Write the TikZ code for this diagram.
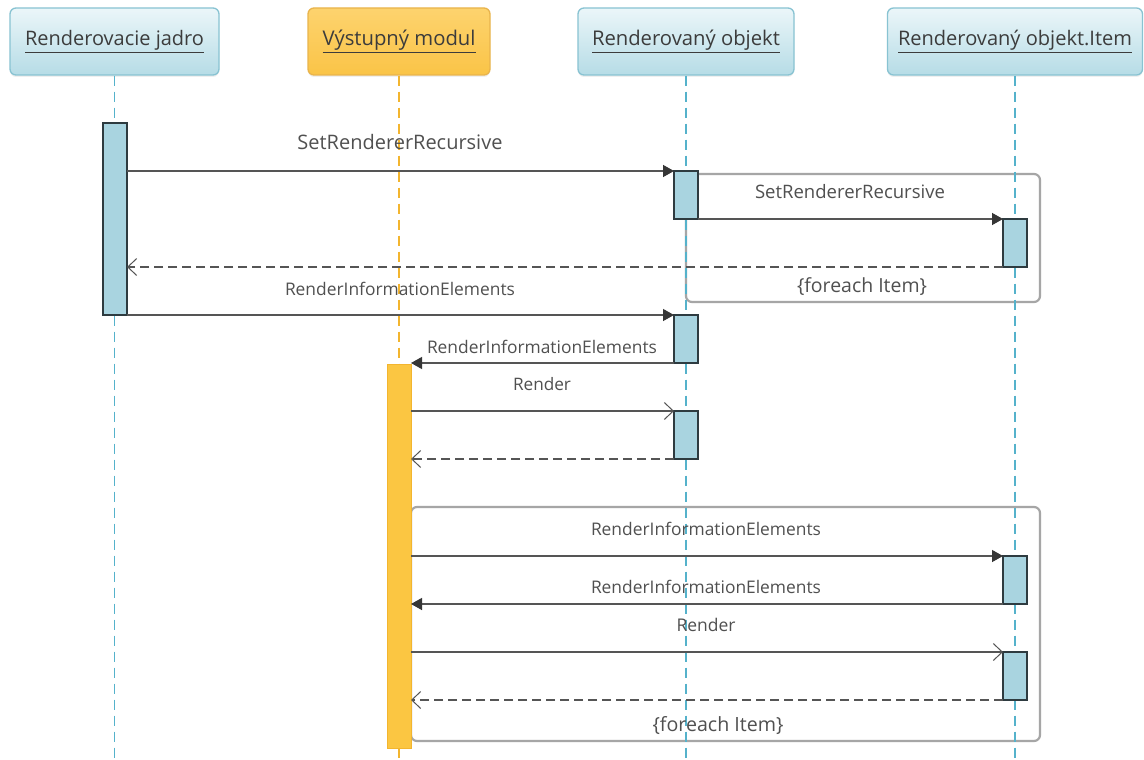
\documentclass[tikz,border=0pt]{standalone}
\usepackage{fontspec}
\usepackage{graphicx}
\setmainfont{Open Sans}
\usetikzlibrary{arrows.meta,shadows}

\definecolor{lifeblue}{HTML}{55B2CB}
\definecolor{lifeorange}{HTML}{F3B52F}
\definecolor{hdrtop}{HTML}{EBF6F9}
\definecolor{hdrbot}{HTML}{B6DCE6}
\definecolor{hdrline}{HTML}{88C3D2}
\definecolor{ortop}{HTML}{FDD36E}
\definecolor{orbot}{HTML}{FAC447}
\definecolor{orline}{HTML}{E9B44C}
\definecolor{actfill}{HTML}{A9D4E0}
\definecolor{actline}{HTML}{2E3B40}
\definecolor{orfill}{HTML}{FBC642}
\definecolor{msgline}{HTML}{555555}
\definecolor{tipcol}{HTML}{363636}
\definecolor{lbltext}{HTML}{505050}
\definecolor{hdrtext}{HTML}{3C3C3C}
\definecolor{framecol}{HTML}{A6A6A6}

% text scaled to a given width in pt
\newcommand\fitw[2]{\resizebox{#1pt}{!}{#2}}

\begin{document}
\begin{tikzpicture}[x=1pt,y=-1pt,
  hdr/.style={draw=hdrline, line width=1.3pt, rounded corners=6pt,
    top color=hdrtop, bottom color=hdrbot, minimum height=67pt,
    inner sep=0pt, text=hdrtext, font=\fontsize{16}{19}\selectfont,
    drop shadow={opacity=0.12, shadow xshift=0pt, shadow yshift=-2pt}},
  hdro/.style={hdr, draw=orline, top color=ortop, bottom color=orbot},
  lifeb/.style={draw=lifeblue, line width=1.3pt, dash pattern=on 10pt off 6pt},
  lifeo/.style={lifeb, draw=lifeorange},
  act/.style={draw=actline, fill=actfill, line width=1.3pt, minimum width=24pt,
    inner sep=0pt, outer sep=0pt, anchor=north},
  acto/.style={act, draw=lifeorange, fill=orfill, line width=1pt},
  call/.style={draw=msgline, line width=1.3pt,
    -{Triangle[length=11pt,width=12pt,color=tipcol]}},
  reply/.style={draw=msgline, line width=1.2pt,
    -{Straight Barb[length=9pt,width=17pt,line width=1pt]}},
  ret/.style={reply, dash pattern=on 9pt off 5pt},
  framebox/.style={draw=framecol, line width=2.2pt, rounded corners=6pt},
  lbl/.style={inner sep=0pt, text=lbltext, font=\fontsize{16}{19}\selectfont}
]
\fill[white] (0,0) rectangle (1144,760);
\useasboundingbox (0,0) rectangle (1144,760);

% combined fragments
\draw[framebox] (686,174) rectangle (1040,302);
\draw[framebox] (411,507) rectangle (1040,741);

% participants
\node[hdr, minimum width=209pt] (h1) at (114.5,41.5) {\fitw{179}{\underline{Renderovacie jadro}}};
\node[hdro, minimum width=182pt] (h2) at (399,41.5) {\fitw{153}{\underline{Výstupný modul}}};
\node[hdr, minimum width=216pt] (h3) at (686,41.5) {\fitw{188}{\underline{Renderovaný objekt}}};
\node[hdr, minimum width=255pt] (h4) at (1015,41.5) {\fitw{234}{\underline{Renderovaný objekt.Item}}};

% lifelines
\coordinate (b1) at (115,760);
\coordinate (b2) at (399,760);
\coordinate (b3) at (686,760);
\coordinate (b4) at (1015,760);
\draw[lifeb] (h1.south) -- (h1.south |- b1);
\draw[lifeo] (h2.south) -- (h2.south |- b2);
\draw[lifeb] (h3.south) -- (h3.south |- b3);
\draw[lifeb] (h4.south) -- (h4.south |- b4);

% activations
\node[act, minimum height=192pt] (a1) at (115,123) {};
\node[act, minimum height=48pt] (a2) at (686,171) {};
\node[act, minimum height=48pt] (a3) at (1015,219) {};
\node[act, minimum height=48pt] (a4) at (686,315) {};
\node[acto, minimum height=384pt] (a5) at (399,364) {};
\node[act, minimum height=48pt] (a6) at (686,411) {};
\node[act, minimum height=48pt] (a7) at (1015,556) {};
\node[act, minimum height=48pt] (a8) at (1015,652) {};

% messages
\draw[call] (a1.east |- a2.north) -- (a2.north west);
\draw[call] (a2.south east) -- (a3.north west);
\draw[ret] (a3.south west) -- (a1.east |- a3.south);
\draw[call] (a1.south east) -- (a4.north west);
\draw[call] (a4.south west) -- (a5.east |- a4.south);
\draw[reply] (a5.east |- a6.north) -- (a6.north west);
\draw[ret] (a6.south west) -- (a5.east |- a6.south);
\draw[call] (a5.east |- a7.north) -- (a7.north west);
\draw[call] (a7.south west) -- (a5.east |- a7.south);
\draw[reply] (a5.east |- a8.north) -- (a8.north west);
\draw[ret] (a8.south west) -- (a5.east |- a8.south);

% message labels
\node[lbl] (l1) at (400,142) {\fitw{205}{SetRendererRecursive}};
\node[lbl] (l2) at (850,192) {\fitw{190}{SetRendererRecursive}};
\node[lbl] (l3) at (400,289) {\fitw{230}{RenderInformationElements}};
\node[lbl] (l4) at (542,347) {\fitw{230}{RenderInformationElements}};
\node[lbl] (l5) at (542,384) {\fitw{58}{Render}};
\node[lbl] (l6) at (706,529) {\fitw{230}{RenderInformationElements}};
\node[lbl] (l7) at (706,587) {\fitw{230}{RenderInformationElements}};
\node[lbl] (l8) at (706,625) {\fitw{59}{Render}};
\node[lbl] (g1) at (862,287) {\fitw{130}{\{foreach Item\}}};
\node[lbl] (g2) at (718,726) {\fitw{131}{\{foreach Item\}}};
\end{tikzpicture}
\end{document}
